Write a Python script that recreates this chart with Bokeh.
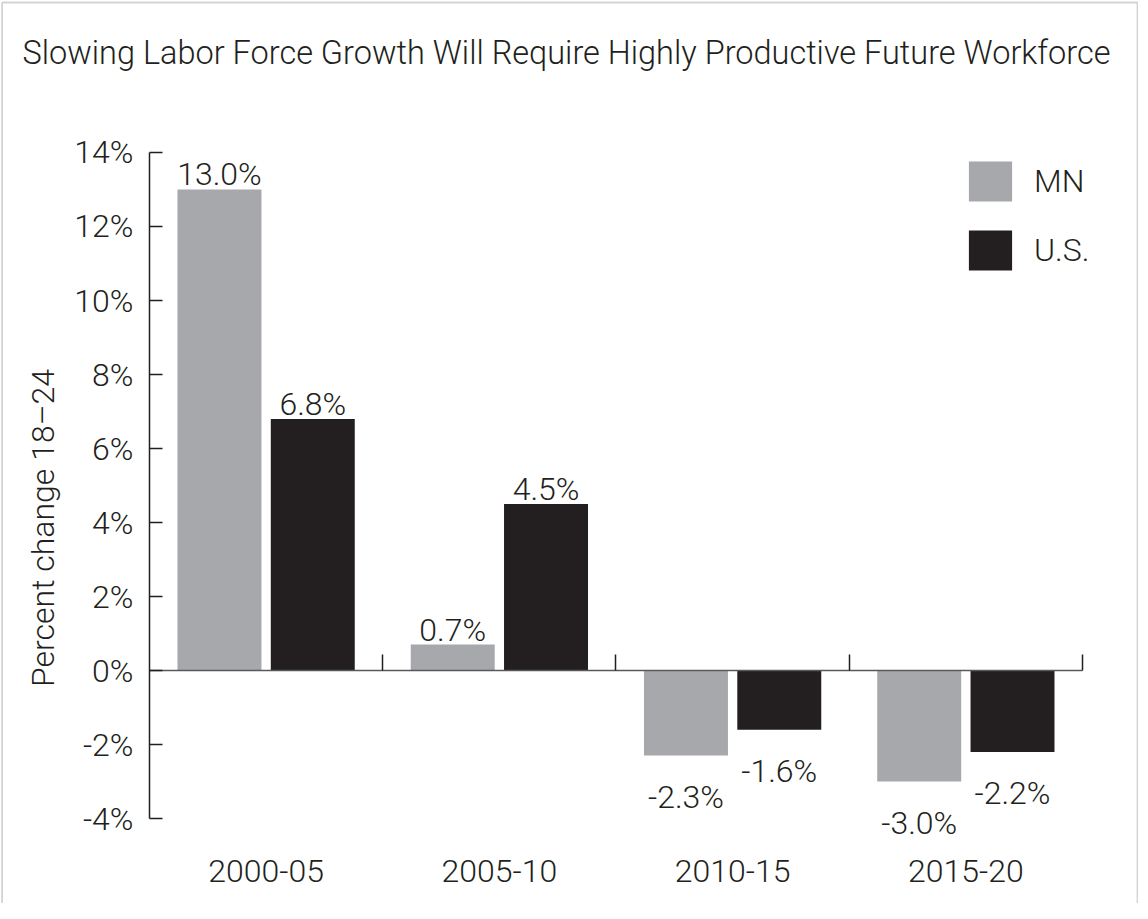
from bokeh.plotting import figure
from bokeh.models import (ColumnDataSource, Range1d, LinearAxis, FixedTicker, BoxAnnotation,
                          PrintfTickFormatter, Label, Legend, LegendItem)
from bokeh.transform import dodge
from bokeh.core.properties import value
from bokeh.embed import file_html
from bokeh.resources import INLINE

# ---- data ----
categories = ["2000-05", "2005-10", "2010-15", "2015-20"]
mn_values = [13.0, 0.7, -2.3, -3.0]
us_values = [6.8, 4.5, -1.6, -2.2]
series_names = ["MN", "U.S."]
y_ticks = [-4, -2, 0, 2, 4, 6, 8, 10, 12, 14]
title_text = "Slowing Labor Force Growth Will Require Highly Productive Future Workforce"
y_label_text = "Percent change 18\u201324"

FONT = "Roboto Light"
TXT = "#231F20"
GRAY = "#A7A8AB"
BLACK = "#231F20"
FS = "32px"

def fmt(v):
    return f"{v:.1f}%"

n = len(categories)
centers = [i + 0.5 for i in range(n)]          # category slot centres on a 0..n scale
boundaries = [i + 1 for i in range(n)]          # slot boundaries (tick marks on zero line)
y_lo, y_hi = min(y_ticks), max(y_ticks)

src = ColumnDataSource(dict(xc=centers, mn=mn_values, us=us_values))

def split(vals, positive):
    keep = [(c, v) for c, v in zip(centers, vals) if (v >= 0) == positive]
    return ColumnDataSource(dict(xc=[c for c, _ in keep], v=[v for _, v in keep],
                                 t=[fmt(v) for _, v in keep]))

W, H = 1138, 903
# frame fills the whole canvas; axes are pinned at fixed data locations
p = figure(x_range=Range1d(-0.6388, 4.2401), y_range=Range1d(-6.297, 18.108),
           width=W, height=H, output_backend="svg", toolbar_location=None,
           x_axis_location=None, y_axis_location=None,
           min_border=0, background_fill_color="white",
           border_fill_color="white", outline_line_color=None)
p.xgrid.grid_line_color = None
p.ygrid.grid_line_color = None

# chart border (open at the bottom, as in the reference crop)
p.add_layout(BoxAnnotation(left=-0.6320, right=4.2358, top=18.054, bottom=-10,
                           fill_alpha=0, line_color="#6f6f6f", line_width=1.8,
                           level="underlay"))

# bars
OFF = 0.2
BW = 0.36
r_mn = p.vbar(x=dodge("xc", -OFF), top="mn", bottom=0, width=BW,
              source=src, fill_color=GRAY, line_color=None)
r_us = p.vbar(x=dodge("xc", OFF), top="us", bottom=0, width=BW,
              source=src, fill_color=BLACK, line_color=None)

# value labels
for vals, off in [(mn_values, -OFF), (us_values, OFF)]:
    p.text(x=dodge("xc", off), y="v", text="t", source=split(vals, True),
           text_align="center", text_baseline="alphabetic", y_offset=-15,
           text_font=value(FONT), text_font_size=FS, text_color=TXT)
    p.text(x=dodge("xc", off), y="v", text="t", source=split(vals, False),
           text_align="center", text_baseline="alphabetic", y_offset=41,
           text_font=value(FONT), text_font_size=FS, text_color=TXT)

# zero line axis: category labels at slot centres, boundary ticks as minor ticks
zero_axis = LinearAxis(ticker=FixedTicker(ticks=centers, minor_ticks=boundaries),
                       bounds=(0, n), fixed_location=0,
                       major_label_overrides={c: lab for c, lab in zip(centers, categories)},
                       axis_line_color="#58595B", axis_line_width=1.5,
                       major_tick_line_color=None, major_tick_in=0, major_tick_out=0,
                       minor_tick_line_color=TXT, minor_tick_line_width=1.5,
                       minor_tick_in=16, minor_tick_out=0,
                       major_label_standoff=189, major_label_text_font=FONT,
                       major_label_text_font_size=FS, major_label_text_color=TXT)
p.add_layout(zero_axis, "below")

# y axis pinned at x = 0
ya = LinearAxis(ticker=FixedTicker(ticks=y_ticks), bounds=(y_lo, y_hi), fixed_location=0,
                formatter=PrintfTickFormatter(format="%d%%"),
                axis_line_color=TXT, axis_line_width=1.5,
                major_tick_line_color=TXT, major_tick_line_width=1.5,
                major_tick_in=13, major_tick_out=0, minor_tick_line_color=None,
                major_label_standoff=16, major_label_text_font=FONT,
                major_label_text_font_size=FS, major_label_text_color=TXT)
p.add_layout(ya, "left")

# title
p.add_layout(Label(x=-0.5445, y=16.70, text=title_text, text_font=FONT,
                   text_font_size="32.5px", text_color=TXT,
                   text_align="left", text_baseline="middle"))
# y axis label
p.add_layout(Label(x=-0.4545, y=3.851, text=y_label_text, angle=90, angle_units="deg",
                   text_font=FONT, text_font_size=FS, text_color=TXT,
                   text_align="center", text_baseline="middle"))

legend = Legend(items=[LegendItem(label=series_names[0], renderers=[r_mn]),
                       LegendItem(label=series_names[1], renderers=[r_us])],
                location=(963, 628), orientation="vertical",
                glyph_width=54, glyph_height=50, label_height=50,
                label_standoff=17, spacing=19, padding=0, margin=0,
                border_line_color=None, background_fill_alpha=0,
                label_text_font=FONT, label_text_font_size=FS,
                label_text_color=TXT)
p.add_layout(legend)

open("out.html", "w").write(file_html(p, INLINE))
